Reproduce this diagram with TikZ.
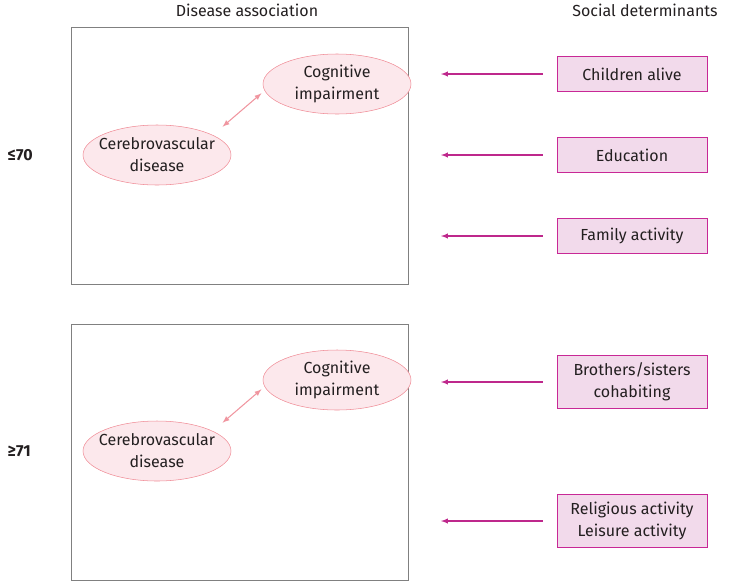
\documentclass[tikz,border=0pt]{standalone}
\usepackage{fontspec}
\setmainfont{Fira Sans}
\usetikzlibrary{shapes}
\usetikzlibrary{positioning}

\begin{document}
\begin{tikzpicture}[x=0.75pt, y=-0.75pt, >=latex,
    every node/.style={font=\fontsize{12}{16.5}\selectfont, text=txt},
    disease/.style={ellipse, draw=elline, fill=elfill, minimum width=111pt, minimum height=45pt, inner xsep=-5pt, inner ysep=0pt, align=center},
    determinant/.style={draw=detline, fill=detfill, minimum width=112.5pt, minimum height=26.25pt, inner sep=0, align=center},
    tall/.style={minimum height=39.75pt},
    link/.style={<->, draw=linkcol, line width=0.8pt, shorten <=1pt, shorten >=1pt},
    effect/.style={->, draw=effcol, line width=0.8pt}]
        % Colors
        \definecolor{txt}{RGB}{35,31,32}
        \definecolor{frame}{RGB}{128,128,128}
        \definecolor{elline}{RGB}{240,140,150}
        \definecolor{elfill}{RGB}{252,232,236}
        \definecolor{linkcol}{RGB}{240,150,160}
        \definecolor{detline}{RGB}{200,40,150}
        \definecolor{detfill}{RGB}{242,218,235}
        \definecolor{effcol}{RGB}{190,40,140}

        \useasboundingbox (0,0) rectangle (737,582);

        % Headers
        \node (head_dis) at (247,10) {Disease association};
        \node (head_soc) at (645,10) {Social determinants};

        % Age groups
        \node[anchor=west, font=\fontsize{12}{14}\selectfont\bfseries] (age_young) at (3,155) {≤70};
        \node[anchor=west, font=\fontsize{12}{14}\selectfont\bfseries] (age_old) at (3,451) {≥71};

        \draw[frame, line width=0.6pt] (71,27) rectangle (408,284);
        \draw[frame, line width=0.6pt] (71,324) rectangle (408,580);

        % Upper panel
        \node[disease] (cogn_1) at (337,84) {Cognitive\\impairment};
        \node[disease] (cereb_1) at (157,155) {Cerebrovascular\\disease};
        \draw[link] ([shift={(12,-6)}]cereb_1.north east) -- ([shift={(-22,-13)}]cogn_1.south west);

        \node[determinant] (children) at (632,74) {Children alive};
        \node[determinant] (edu) at (632,155) {Education};
        \node[determinant] (family) at (632,236) {Family activity};

        \coordinate (tip_children) at (441,74);
        \coordinate (tip_edu) at (441,155);
        \coordinate (tip_family) at (441,236);
        \draw[effect] ([xshift=-10.5pt]children.west) -- (tip_children);
        \draw[effect] ([xshift=-10.5pt]edu.west) -- (tip_edu);
        \draw[effect] ([xshift=-10.5pt]family.west) -- (tip_family);

        % Lower panel
        \node[disease] (cogn_2) at (337,380) {Cognitive\\impairment};
        \node[disease] (cereb_2) at (157,451) {Cerebrovascular\\disease};
        \draw[link] ([shift={(12,-6)}]cereb_2.north east) -- ([shift={(-22,-13)}]cogn_2.south west);

        \node[determinant, tall] (siblings) at (632,382) {Brothers/sisters\\cohabiting};
        \node[determinant, tall] (leisure) at (632,521) {Religious activity\\Leisure activity};

        \coordinate (tip_siblings) at (441,382);
        \coordinate (tip_leisure) at (441,521);
        \draw[effect] ([xshift=-10.5pt]siblings.west) -- (tip_siblings);
        \draw[effect] ([xshift=-10.5pt]leisure.west) -- (tip_leisure);
\end{tikzpicture}
\end{document}
